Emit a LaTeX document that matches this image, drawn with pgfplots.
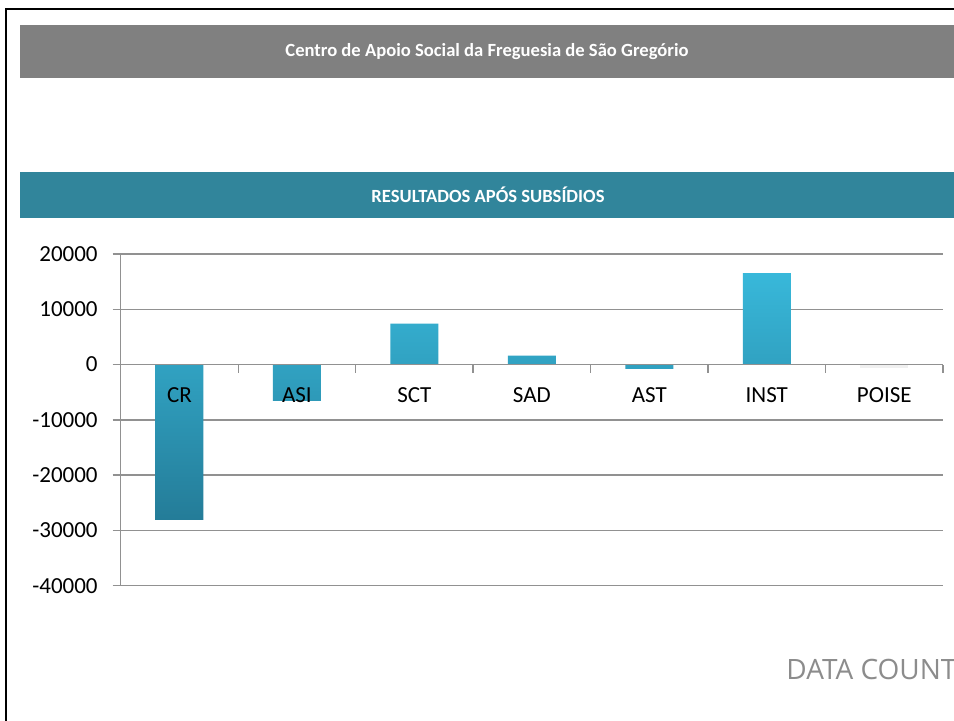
\documentclass[border=0pt]{standalone}
\usepackage{pgfplots}
\pgfplotsset{compat=1.18}
\usepackage{fontspec}
\setmainfont{Carlito}
\newfontfamily\logofont{Open Sans}
\definecolor{hdrgray}{RGB}{128,128,128}
\definecolor{hdrteal}{RGB}{49,133,155}
\definecolor{bartop}{RGB}{56,184,218}
\definecolor{barbot}{RGB}{36,124,152}
\definecolor{gridc}{RGB}{145,145,145}
\pgfplotsset{
  myframe/.style={
    at={(60.35pt,67.15pt)}, anchor=south west,
    scale only axis, width=411.15pt, height=165.85pt,
    xmin=0.5, xmax=7.5, ymin=-40000, ymax=20000,
    enlargelimits=false, scaled y ticks=false,
  },
}
\begin{document}
\begin{tikzpicture}
\useasboundingbox (0pt,0pt) rectangle (477pt,360pt);
\begin{scope}[x=0.5pt,y=-0.5pt,shift={(0pt,360pt)}]
\fill[white] (0,0) rectangle (954,720);
\draw[black, line width=1pt] (6,721) -- (6,9) -- (955,9);
\fill[hdrgray] (20,25) rectangle (954,78);
\node[white, font=\bfseries\fontsize{9.3}{11}\selectfont] at (487,51.5) {Centro de Apoio Social da Freguesia de São Gregório};
\fill[hdrteal] (20,172) rectangle (954,218);
\node[white, font=\bfseries\fontsize{9.3}{11}\selectfont] at (488,195) {RESULTADOS APÓS SUBSÍDIOS};
\node[anchor=west, text=gray!90, font=\logofont\fontsize{14}{16}\selectfont, inner sep=0pt] at (786,669) {DATA COUNT};
\end{scope}
% grid and bars
\begin{axis}[
  myframe,
  axis line style={draw=none},
  ytick={-40000,-30000,-20000,-10000,0,10000,20000},
  yticklabels={},
  major tick length=0pt,
  ymajorgrids, grid style={gridc, line width=0.65pt},
  xtick=\empty,
]
\addplot[ybar, bar width=24pt, bar shift=0pt, draw=none, top color=bartop, bottom color=barbot]
  coordinates {(1,-28100) (2,-6570) (3,7420) (4,1630) (5,-800) (6,16530)};
\addplot[ybar, bar width=24pt, bar shift=0pt, draw=none, fill=gray!12]
  coordinates {(7,-600)};
\end{axis}
% axis lines, ticks and labels on top
\begin{axis}[
  myframe,
  axis x line=middle, axis y line=left,
  axis line style={-, draw=gridc, line width=0.65pt},
  hide obscured x ticks=false, hide obscured y ticks=false,
  ytick={-40000,-30000,-20000,-10000,0,10000,20000},
  tick style={gridc, line width=0.65pt},
  tick align=outside, major tick length=4pt,
  xtick={0.5,1.5,...,7.5}, xticklabels={},
  extra x ticks={1,2,3,4,5,6,7},
  extra x tick labels={CR,ASI,SCT,SAD,AST,INST,POISE},
  extra x tick style={major tick length=0pt, tick label style={yshift=-8pt}},
  ticklabel style={font=\fontsize{11.5}{13}\selectfont, text=black},
  yticklabel style={xshift=-4pt},
  /pgf/number format/1000 sep={},
  /pgf/number format/assume math mode=true,
]
\end{axis}
\end{tikzpicture}
\end{document}
